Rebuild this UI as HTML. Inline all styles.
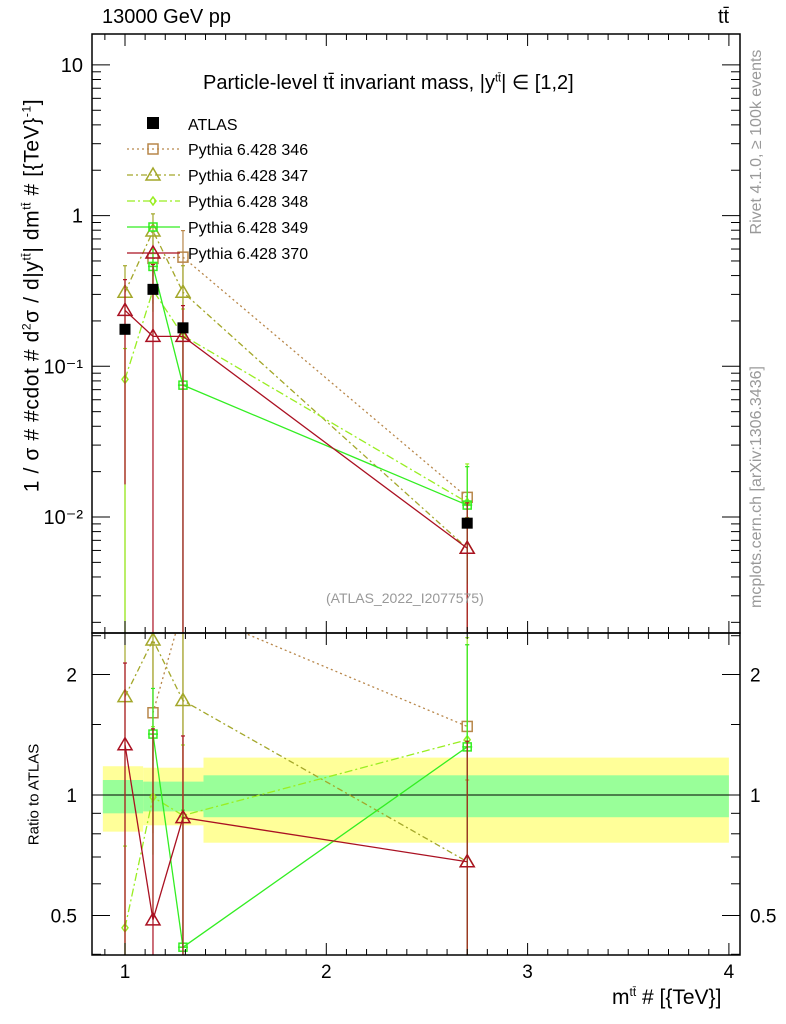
<!DOCTYPE html>
<html><head><meta charset="utf-8"><style>
html,body{margin:0;background:#fff;width:786px;height:1024px;overflow:hidden;}
svg{display:block;font-family:"Liberation Sans",sans-serif;}
</style></head><body>
<svg id="c" width="786" height="1024" viewBox="0 0 786 1024"></svg>
<script>
const xs=[1.0,1.139,1.288,2.70];
const atlas=[0.176,0.324,0.18,0.0091];
const atlasErr=[0.012,0.02,0.012,0.0007];
const s346=[null,0.52,0.53,0.0135];
const s347=[0.31,0.79,0.31,0.0062];
const s348=[0.082,0.32,0.16,0.0125];
const s349=[null,0.46,0.075,0.012];
const s370=[0.235,0.158,0.158,0.0062];
const relHi346=[0,0.5,0.5,0.6];const relLo346=[0,0.5,1,1];
const relHi347=[0.5,0.3,0.5,0.6];const relLo347=[1,0.5,0.5,1];
const relHi348=[0.6,0.5,0.5,0.8];const relLo348=[1,0.5,0.5,0.7];
const relHi349=[0,0.3,1.2,0.8];const relLo349=[0,0.5,1,0.7];
const relHi370=[0.6,2,0.6,1.0];const relLo370=[0.93,1,1,1];
const bandEdges=[0.89,1.09,1.39,4.0];
const bandY=[[0.81,1.18],[0.84,1.17],[0.76,1.24]];
const bandG=[[0.90,1.09],[0.91,1.08],[0.88,1.12]];
const xTicks=[1,2,3,4];
const yMainTicks=[0.01,0.1,1,10];
const yMainLabels=["10\u207B\u00B2","10\u207B\u00B9","1","10"];
const yRatioTicks=[0.5,1,2];

const NS="http://www.w3.org/2000/svg";
const svg=document.getElementById('c');
function el(t,a,p){const e=document.createElementNS(NS,t);for(const k in a)e.setAttribute(k,a[k]);(p||svg).appendChild(e);return e;}
const L=92,R=740,T=34,M=633,B=955;
const X=v=>125+(v-1)*201.3;
const Y=v=>v<=0?M:Math.min(M,517-(Math.log10(v)+2)*150.7);
const YR=v=>v<=0?B:795-Math.log2(v)*120.5;

const defs=el('defs',{});
const c1=el('clipPath',{id:'cm'},defs);el('rect',{x:L,y:T,width:R-L,height:M-T},c1);
const c2=el('clipPath',{id:'cr'},defs);el('rect',{x:L,y:M,width:R-L,height:B-M},c2);

const gb=el('g',{'clip-path':'url(#cr)'});


for(let i=0;i<bandY.length;i++){
  const r=el('rect',{x:X(bandEdges[i]),y:YR(bandY[i][1]),width:X(bandEdges[i+1])-X(bandEdges[i]),height:YR(bandY[i][0])-YR(bandY[i][1]),fill:'#ffff99'},gb);
  
  
  const g=el('rect',{x:X(bandEdges[i]),y:YR(bandG[i][1]),width:X(bandEdges[i+1])-X(bandEdges[i]),height:YR(bandG[i][0])-YR(bandG[i][1]),fill:'#99ff99'},gb);
  
  
}
el('line',{x1:L,x2:R,y1:YR(1),y2:YR(1),stroke:'#000','stroke-width':1});

const series=[
 {name:'346',v:s346,hi:relHi346,lo:relLo346,c:'#b8874a',dash:'2,3',m:'sq'},
 {name:'347',v:s347,hi:relHi347,lo:relLo347,c:'#a3a72a',dash:'6,3,2,3',m:'tri'},
 {name:'348',v:s348,hi:relHi348,lo:relLo348,c:'#99ee22',dash:'8,3,2,3',m:'dia'},
 {name:'349',v:s349,hi:relHi349,lo:relLo349,c:'#33ee22',dash:'',m:'cross'},
 {name:'370',v:s370,hi:relHi370,lo:relLo370,c:'#aa1122',dash:'',m:'tri'}];

function marker(g,m,x,y,c){
  if(m==='sq')el('rect',{x:x-5,y:y-5,width:10,height:10,fill:'none',stroke:c,'stroke-width':1.5},g);
  else if(m==='tri')el('polygon',{points:`${x},${y-7} ${x-7},${y+5} ${x+7},${y+5}`,fill:'none',stroke:c,'stroke-width':1.5},g);
  else if(m==='dia')el('polygon',{points:`${x},${y-4} ${x-3},${y} ${x},${y+4} ${x+3},${y}`,fill:'none',stroke:c,'stroke-width':1.5},g);
  else if(m==='cross'){el('line',{x1:x-5,x2:x+5,y1:y,y2:y,stroke:c,'stroke-width':1.5},g);el('rect',{x:x-4,y:y-4,width:8,height:8,fill:'none',stroke:c,'stroke-width':1.5},g);}
}
function drawSeries(s,ratio){
  const g=el('g',{'clip-path':ratio?'url(#cr)':'url(#cm)'});
  
  
  const Yf=ratio?(v=>Math.max(M-20,Math.min(B,YR(v)))):Y;
  const pts=[];
  s.v.forEach((v,i)=>{if(v==null)return;const val=ratio?v/atlas[i]:v;pts.push([X(xs[i]),ratio?YR(val):Y(val),val,i]);});
  el('polyline',{points:pts.map(p=>p[0]+','+p[1]).join(' '),fill:'none',stroke:s.c,'stroke-width':1.3,'stroke-dasharray':s.dash},g);
  pts.forEach(p=>{
    const v=p[2],i=p[3];
    const y1=Yf(v*(1+s.hi[i])),y2=Yf(v*(1-s.lo[i]));
    el('line',{x1:p[0],x2:p[0],y1:y1,y2:y2,stroke:s.c,'stroke-width':1.2},g);
    el('line',{x1:p[0]-2,x2:p[0]+2,y1:y1,y2:y1,stroke:s.c,'stroke-width':1.2},g);
    marker(g,s.m,p[0],p[1],s.c);
  });
}
series.forEach(s=>{drawSeries(s,false);drawSeries(s,true);});

const ga=el('g',{});


atlas.forEach((v,i)=>{
  const x=X(xs[i]),y=Y(v);
  el('line',{x1:x,x2:x,y1:Y(v+atlasErr[i]),y2:Y(v-atlasErr[i]),stroke:'#000'},ga);
  const p=el('rect',{x:x-5.5,y:y-5.5,width:11,height:11,fill:'#000'},ga);
  
  
});

el('rect',{x:L,y:T,width:R-L,height:M-T,fill:'none',stroke:'#000','stroke-width':1.5});
el('rect',{x:L,y:M,width:R-L,height:B-M,fill:'none',stroke:'#000','stroke-width':1.5});

for(let v=0.9;v<=4.05;v+=0.1){
  const x=X(v);const major=Math.abs(v-Math.round(v))<0.01;
  const h=major?12:6;
  [[T,1],[M,-1],[M,1],[B,-1]].forEach(([y,d])=>el('line',{x1:x,x2:x,y1:y,y2:y+d*h,stroke:'#000'}));
}
xTicks.forEach(v=>{const t=el('text',{x:X(v),y:978,'font-size':19,'text-anchor':'middle'});t.textContent=v;
  });

for(let d=-3;d<=1;d++)for(let k=1;k<10;k++){
  const v=k*Math.pow(10,d);const y=517-(Math.log10(v)+2)*150.7;if(y<T||y>M)continue;
  const h=k===1?18:9;
  el('line',{x1:L,x2:L+h,y1:y,y2:y,stroke:'#000'});el('line',{x1:R,x2:R-h,y1:y,y2:y,stroke:'#000'});
}
yMainTicks.forEach((v,i)=>{const t=el('text',{x:83,y:Y(v)+7,'font-size':20,'text-anchor':'end'});t.textContent=yMainLabels[i];
  });

[0.4,0.5,0.6,0.7,0.8,0.9,1,1.5,2,2.5].forEach(v=>{const y=YR(v);if(y<M||y>B)return;
  const h=yRatioTicks.includes(v)?18:9;
  el('line',{x1:L,x2:L+h,y1:y,y2:y,stroke:'#000'});el('line',{x1:R,x2:R-h,y1:y,y2:y,stroke:'#000'});});
yRatioTicks.forEach(v=>{
  const t=el('text',{x:77,y:YR(v)+7,'font-size':19,'text-anchor':'end'});t.textContent=v;
  
  const t2=el('text',{x:750,y:YR(v)+7,'font-size':19});t2.textContent=v;
  
});

const lg=el('g',{});


el('rect',{x:147,y:117,width:12,height:12,fill:'#000'},lg);
let t=el('text',{x:188,y:130,'font-size':16},lg);t.textContent='ATLAS';
series.forEach((s,i)=>{
  const y=149+i*26;
  el('line',{x1:127,x2:180,y1:y,y2:y,stroke:s.c,'stroke-width':1.3,'stroke-dasharray':s.dash},lg);
  marker(lg,s.m,153,y,s.c);
  const tt=el('text',{x:188,y:y+6,'font-size':16},lg);tt.textContent='Pythia 6.428 '+s.name;
  
});
</script>
<div style="position:absolute;left:0;top:0;width:786px;height:1024px;overflow:hidden;font-family:'Liberation Sans',sans-serif;pointer-events:none">
<div style="position:absolute;left:102px;top:6px;font-size:20px">13000 GeV pp</div>
<div style="position:absolute;left:718px;top:6px;font-size:20px">tt̄</div>
<div style="position:absolute;left:203px;top:70px;font-size:20px">Particle-level tt̄ invariant mass, |y<sup style="font-size:11px">tt̄</sup>| ∈ [1,2]</div>
<div style="position:absolute;left:326px;top:590px;font-size:14px;color:#999">(ATLAS_2022_I2077575)</div>
<div style="position:absolute;left:-268px;top:283px;width:600px;text-align:center;transform:rotate(-90deg);font-size:21px;letter-spacing:0.6px;white-space:nowrap">1 / σ # #cdot # d<sup style="font-size:12px">2</sup>σ / d|y<sup style="font-size:12px">tt̄</sup>| dm<sup style="font-size:12px">tt̄</sup> # [{TeV}<sup style="font-size:12px">-1</sup>]</div>
<div style="position:absolute;left:-36px;top:786px;width:140px;text-align:center;transform:rotate(-90deg);font-size:15px;white-space:nowrap">Ratio to ATLAS</div>
<div style="position:absolute;left:647px;top:133px;width:220px;text-align:center;transform:rotate(-90deg);font-size:16px;color:#999;white-space:nowrap">Rivet 4.1.0, ≥ 100k events</div>
<div style="position:absolute;left:617px;top:478px;width:280px;text-align:center;transform:rotate(-90deg);font-size:16px;color:#999;white-space:nowrap">mcplots.cern.ch [arXiv:1306.3436]</div>
<div style="position:absolute;left:612px;top:986px;font-size:21px;line-height:24px;white-space:nowrap">m<sup style="font-size:12px;line-height:0">tt̄</sup> # [{TeV}]</div>
</div>
</body></html>
